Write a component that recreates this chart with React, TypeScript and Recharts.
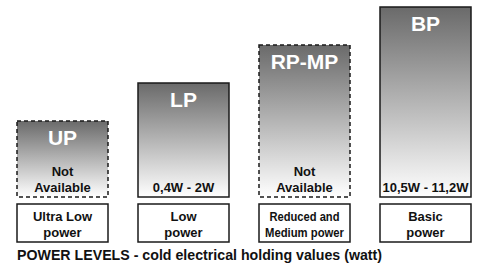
import { BarChart, Bar, XAxis, YAxis } from 'recharts'

/* ── Data ── */
const codes = ['UP', 'LP', 'RP-MP', 'BP']
const levels = [2, 3, 4, 5]
const ranges = [['Not', 'Available'], ['0,4W - 2W'], ['Not', 'Available'], ['10,5W - 11,2W']]
const available = [false, true, false, true]
const names = [['Ultra Low', 'power'], ['Low', 'power'], ['Reduced and', 'Medium power'], ['Basic', 'power']]
const title = 'POWER LEVELS - cold electrical holding values (watt)'

const data = codes.map((c, i) => ({ code: c, level: levels[i] }))

const font = '"Liberation Sans", Arial, Helvetica, sans-serif'

/* ── Bar with code on top and watt range at the bottom ── */
function LevelBar(props: any) {
  const { x, y, width, height, index } = props
  const cx = x + width / 2
  const bottom = y + height
  const lines = ranges[index]
  return (
    <g>
      <rect
        x={x}
        y={y}
        width={width}
        height={height}
        fill="url(#barGrad)"
        stroke="#1a1a1a"
        strokeWidth={1.5}
        strokeDasharray={available[index] ? undefined : '4 3'}
      />
      <text x={cx} y={y + 16} textAnchor="middle" dominantBaseline="central"
        fill="#fff" fontSize={21} fontWeight="bold" fontFamily={font}>
        {codes[index]}
      </text>
      {lines.map((l, k) => (
        <text key={k} x={cx} y={bottom - 10 - (lines.length - 1 - k) * 16}
          textAnchor="middle" dominantBaseline="central"
          fill="#111" fontSize={13} fontWeight="bold" fontFamily={font}>
          {l}
        </text>
      ))}
    </g>
  )
}

/* ── Name box under each bar ── */
function NameTick(props: any) {
  const { x, y, index } = props
  const lines = names[index]
  const condensed = index === 2
  return (
    <g>
      <rect x={x - 45.5} y={y + 7} width={91} height={38} fill="#fff" stroke="#1a1a1a" strokeWidth={1.5} />
      {lines.map((l, k) => (
        <text key={k} x={x} y={y + 19.5 + k * 16} textAnchor="middle" dominantBaseline="central"
          fill="#111" fontSize={condensed ? 12 : 13} fontWeight="bold" fontFamily={font}
          {...(condensed ? { textLength: k === 0 ? 70 : 79, lengthAdjust: 'spacingAndGlyphs' } : {})}>
          {l}
        </text>
      ))}
    </g>
  )
}

export default function App() {
  return (
    <div style={{ position: 'absolute', left: 0, top: 0, width: 479, height: 266, overflow: 'hidden', background: '#fff' }}>
      <BarChart width={488} height={266} data={data} margin={{ top: 7, right: 2, bottom: 0, left: 2 }}>
        <defs>
          <linearGradient id="barGrad" x1="0" y1="0" x2="0" y2="1">
            <stop offset="0%" stopColor="#6a6a6a" />
            <stop offset="100%" stopColor="#ffffff" />
          </linearGradient>
        </defs>
        <XAxis dataKey="code" axisLine={false} tickLine={false} tickSize={0} tickMargin={0}
          height={69} interval={0} tick={<NameTick />} />
        <YAxis hide domain={[0, 5]} />
        <Bar dataKey="level" barSize={91} isAnimationActive={false} shape={<LevelBar />} />
      </BarChart>
      <div style={{ position: 'absolute', left: 17, top: 247, fontFamily: font, fontWeight: 'bold',
        fontSize: 14.2, color: '#111', whiteSpace: 'nowrap' }}>
        {title}
      </div>
    </div>
  )
}
